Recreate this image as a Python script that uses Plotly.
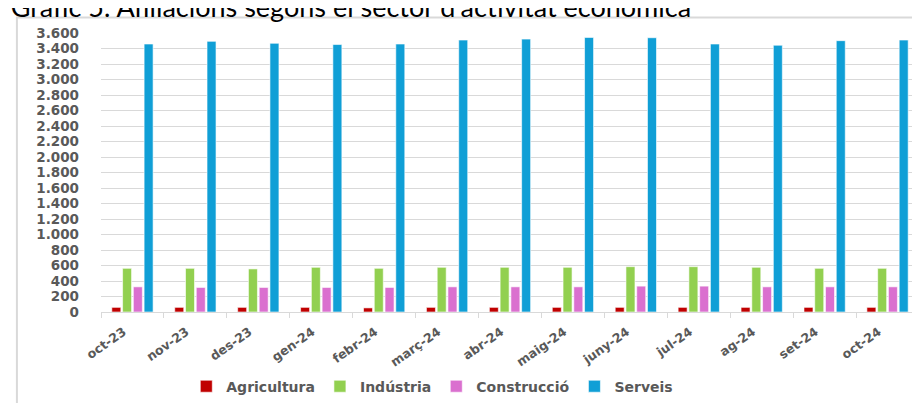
import plotly.graph_objects as go

months = ["oct-23", "nov-23", "des-23", "gen-24", "febr-24", "març-24", "abr-24",
          "maig-24", "juny-24", "jul-24", "ag-24", "set-24", "oct-24"]

agricultura = [60, 60, 60, 60, 53, 60, 60, 60, 60, 60, 60, 60, 60]
industria = [564, 564, 556, 577, 564, 577, 577, 577, 585, 585, 577, 564, 564]
construccio = [325, 317, 317, 317, 317, 325, 325, 325, 334, 334, 325, 325, 325]
serveis = [3459, 3493, 3468, 3452, 3459, 3510, 3522, 3544, 3540, 3459, 3443, 3502, 3510]

series = [
    ("Agricultura", agricultura, "#C00000"),
    ("Indústria", industria, "#92D050"),
    ("Construcció", construccio, "#DA70CF"),
    ("Serveis", serveis, "#109FD6"),
]

title_text = "Gràfic 5. Afiliacions segons el sector d'activitat econòmica"

fig = go.Figure()
for name, vals, color in series:
    fig.add_trace(go.Bar(
        x=months, y=vals, name=name,
        marker=dict(color=color, line=dict(color="rgba(255,255,255,0.6)", width=1)),
    ))

fig.update_layout(
    width=920, height=403,
    margin=dict(l=93, r=9, t=25, b=92),
    paper_bgcolor="white", plot_bgcolor="white",
    barmode="group", bargap=0.316, bargroupgap=0.163,
    separators=",.",
    title=dict(text=title_text, x=0.003, xanchor="left", xref="container",
               y=1.0, yref="container", yanchor="middle",
               font=dict(family="Lato", size=27, color="#000000")),
    showlegend=True,
    legend=dict(orientation="h", x=0.405, xanchor="center", y=-0.2675, yanchor="middle",
                font=dict(family="DejaVu Sans", size=14, color="#595959", weight="bold"),
                itemwidth=30, traceorder="normal"),
    xaxis=dict(
        type="category", showline=True, linecolor="#D9D9D9", linewidth=1,
        ticks="outside", tickson="boundaries", ticklen=5, tickcolor="#D9D9D9",
        tickangle=-35, showgrid=False,
        ticklabelstandoff=7, ticklabelshift=-9,
        tickfont=dict(family="DejaVu Sans", size=12.5, color="#595959", weight="bold"),
    ),
    yaxis=dict(
        range=[0, 3601], dtick=200, tick0=0, tickformat=",d",
        showgrid=True, gridcolor="#D9D9D9", gridwidth=1,
        zeroline=False, showline=False, ticks="",
        ticklabelstandoff=21,
        tickfont=dict(family="DejaVu Sans", size=13.5, color="#595959", weight="bold"),
    ),
    shapes=[dict(type="rect", xref="paper", yref="paper",
                 x0=-0.1028, x1=1.2, y0=-0.5, y1=1.0559,
                 line=dict(color="#D9D9D9", width=2), layer="below")],
)

fig.write_html("out.html")
